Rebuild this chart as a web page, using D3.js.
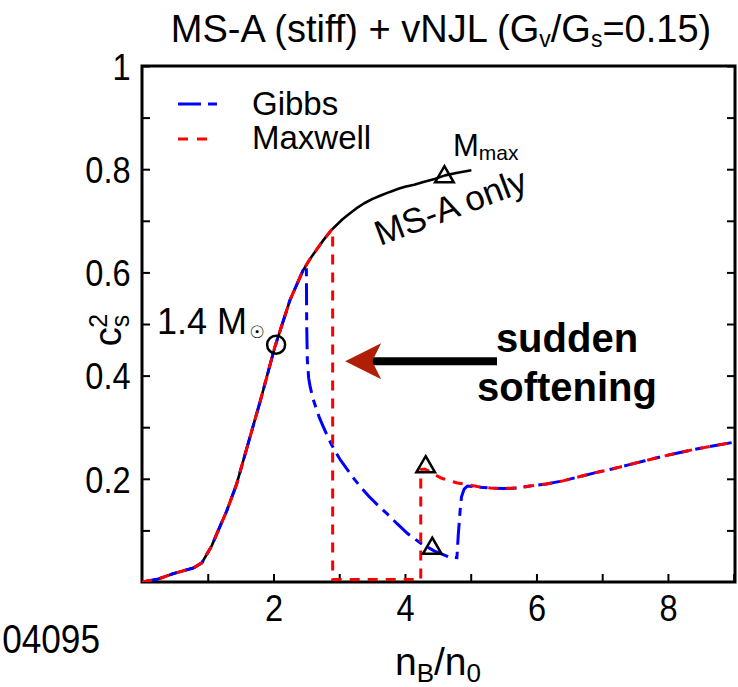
<!DOCTYPE html>
<html><head><meta charset="utf-8">
<script src="https://cdn.jsdelivr.net/npm/d3@7"></script>
<style>
body{margin:0;background:#fff}
text{font-family:"Liberation Sans",Arial,Helvetica,sans-serif;fill:#000}
</style></head>
<body><svg id="chart" width="738" height="687"></svg>
<script>
// ---------- data ----------
const msaN  = [0,0.25,0.47,0.78,0.91,1.06,1.16,1.29,1.44,1.6,1.8,2.02,2.25,2.45,2.55,2.65,2.75,2.88,3.05,3.15,3.26,3.38,3.5,3.63,3.77,3.9,4.0,4.14,4.28,4.45,4.61,4.8,5.01];
const msaCs = [0,0.006,0.016,0.027,0.037,0.07,0.10,0.138,0.19,0.262,0.351,0.455,0.546,0.604,0.625,0.643,0.661,0.682,0.703,0.713,0.724,0.734,0.742,0.749,0.756,0.762,0.766,0.770,0.775,0.781,0.788,0.793,0.798];

const gibbsN  = [0,0.25,0.47,0.78,0.91,1.06,1.16,1.29,1.44,1.6,1.8,2.02,2.25,2.45,2.5,2.505,2.515,2.535,2.56,2.6,2.65,2.7,2.76,2.82,2.88,2.95,3.02,3.1,3.2,3.32,3.45,3.6,3.73,3.88,4.04,4.24,4.45,4.68,4.79,4.81,4.84,4.86,4.9,4.95,5.1,5.3,5.5,5.7,5.9,6.15,6.4,6.65,6.9,7.15,7.4,7.65,7.9,8.15,8.4,8.7,9.05];
const gibbsCs = [0,0.006,0.016,0.027,0.037,0.07,0.10,0.138,0.19,0.262,0.351,0.455,0.546,0.604,0.612,0.50,0.43,0.395,0.377,0.356,0.336,0.318,0.30,0.283,0.267,0.251,0.236,0.222,0.204,0.185,0.166,0.147,0.132,0.113,0.094,0.075,0.060,0.048,0.047,0.09,0.14,0.165,0.18,0.186,0.184,0.182,0.181,0.182,0.186,0.19,0.196,0.204,0.212,0.219,0.227,0.235,0.243,0.25,0.257,0.264,0.272];

const maxwellN  = [0,0.25,0.47,0.78,0.91,1.06,1.16,1.29,1.44,1.6,1.8,2.02,2.25,2.45,2.55,2.65,2.75,2.88,2.9,2.9,3.5,4.24,4.24,4.3,4.38,4.47,4.56,4.68,4.8,4.93,5.1,5.3,5.5,5.7,5.9,6.15,6.4,6.65,6.9,7.15,7.4,7.65,7.9,8.15,8.4,8.7,9.05];
const maxwellCs = [0,0.006,0.016,0.027,0.037,0.07,0.10,0.138,0.19,0.262,0.351,0.455,0.546,0.604,0.625,0.643,0.661,0.682,0.684,0.005,0.005,0.005,0.218,0.219,0.214,0.207,0.201,0.196,0.192,0.189,0.185,0.182,0.181,0.182,0.186,0.19,0.196,0.204,0.212,0.219,0.227,0.235,0.243,0.25,0.257,0.264,0.272];

const circleMark   = {n:2.04, cs:0.460};
const triangleN    = [4.60, 4.315, 4.415];
const triangleCs   = [0.785, 0.223, 0.065];

const xTicks = [1,2,3,4,5,6,7,8,9];
const xTickLabels = [2,4,6,8];
const yTicks = [0.1,0.2,0.3,0.4,0.5,0.6,0.7,0.8,0.9,1.0];
const yTickLabels = [0.2,0.4,0.6,0.8,1.0];

const arrowN  = [5.40, 3.09];   // tail, tip
const arrowCs = [0.428, 0.428];

// ---------- chart ----------
const svg = d3.select("#chart");
const L=142, R=735, T=66, B=582;
const x = d3.scaleLinear().domain([0, 9.02]).range([L, R]);
const y = d3.scaleLinear().domain([0, 1]).range([B, T]);

// title
const title = svg.append("text").attr("x", 441).attr("y", 42).attr("text-anchor","middle").style("font-size","38px");
title.append("tspan").text("MS-A (stiff) + vNJL (G");
title.append("tspan").text("v").style("font-size","23px").attr("dy",5);
title.append("tspan").text("/G").attr("dy",-5);
title.append("tspan").text("s").style("font-size","23px").attr("dy",5);
title.append("tspan").text("=0.15)").attr("dy",-5);

// axes
const fmt = d => d === 1 ? "1" : d3.format(".1f")(d);
const gx = svg.append("g").attr("transform",`translate(0,${B})`)
  .call(d3.axisBottom(x).tickValues(xTicks).tickSize(-8).tickFormat(d => xTickLabels.includes(d) ? d : ""));
gx.select(".domain").remove();
gx.selectAll("line").attr("stroke","#000").attr("stroke-width",2);
gx.selectAll("text").attr("y",39).attr("dy",0).attr("transform","scale(0.88,1)").style("font-size","37px").attr("font-family",null);

const gy = svg.append("g").attr("transform",`translate(${L},0)`)
  .call(d3.axisLeft(y).tickValues(yTicks).tickSize(-8).tickFormat(d => yTickLabels.some(v=>Math.abs(v-d)<1e-9) ? fmt(d) : ""));
gy.select(".domain").remove();
gy.selectAll("line").attr("stroke","#000").attr("stroke-width",2);
gy.selectAll("text").attr("x",-13).attr("dy","0.36em").attr("transform","scale(0.88,1)").style("font-size","37px").attr("font-family",null);

const gr = svg.append("g").attr("transform",`translate(${R},0)`)
  .call(d3.axisRight(y).tickValues(yTicks).tickSize(-8).tickFormat(""));
gr.select(".domain").remove();
gr.selectAll("line").attr("stroke","#000").attr("stroke-width",2);

// frame
svg.append("rect").attr("x",L).attr("y",T).attr("width",R-L).attr("height",B-T)
  .attr("fill","none").attr("stroke","#000").attr("stroke-width",3);

// clip
svg.append("clipPath").attr("id","clip").append("rect").attr("x",L).attr("y",T).attr("width",R-L).attr("height",B-T);
const plot = svg.append("g").attr("clip-path","url(#clip)");

const line = d3.line().x(d=>x(d[0])).y(d=>y(d[1])).curve(d3.curveLinear);
const zip = (a,b) => a.map((v,i)=>[v,b[i]]);

plot.append("path").attr("d", line(zip(msaN,msaCs))).attr("fill","none").attr("stroke","#000").attr("stroke-width",2.6).attr("stroke-linejoin","round");
plot.append("path").attr("d", line(zip(gibbsN,gibbsCs))).attr("fill","none").attr("stroke","#0000ff").attr("stroke-width",3)
  .attr("stroke-dasharray","22,7,8,7");
plot.append("path").attr("d", line(zip(maxwellN,maxwellCs))).attr("fill","none").attr("stroke","#ff0000").attr("stroke-width",3)
  .attr("stroke-dasharray","10,8");

// markers
svg.append("circle").attr("cx",x(circleMark.n)).attr("cy",y(circleMark.cs)).attr("r",9)
  .attr("fill","none").attr("stroke","#000").attr("stroke-width",2.5);
svg.selectAll(".tri").data(zip(triangleN,triangleCs)).join("path").attr("class","tri")
  .attr("transform",d=>`translate(${x(d[0])},${y(d[1])})`)
  .attr("d", d3.symbol(d3.symbolTriangle).size(150)())
  .attr("fill","none").attr("stroke","#000").attr("stroke-width",2.5);

// legend
svg.append("line").attr("x1",178).attr("x2",217).attr("y1",104).attr("y2",104)
  .attr("stroke","#0000ff").attr("stroke-width",3).attr("stroke-dasharray","23,7,9,7");
svg.append("text").attr("x",252).attr("y",115).style("font-size","33px").text("Gibbs");
svg.append("line").attr("x1",178).attr("x2",207).attr("y1",139).attr("y2",139)
  .attr("stroke","#ff0000").attr("stroke-width",3).attr("stroke-dasharray","10,9");
svg.append("text").attr("x",252).attr("y",149).style("font-size","33px").text("Maxwell");

// annotations
svg.append("text").attr("x",157).attr("y",334).style("font-size","36px").text("1.4 M");
svg.append("text").attr("x",257).attr("y",338).attr("text-anchor","middle")
  .style("font-family","DejaVu Sans").style("font-size","17px").text("\u2609");

const mm = svg.append("text").attr("x",453).attr("y",156).style("font-size","31px");
mm.append("tspan").text("M");
mm.append("tspan").text("max").style("font-size","21px").attr("dy",4);

svg.append("text").attr("transform","translate(380,246) rotate(-20.5)").style("font-size","35px").text("MS-A only");

// arrow
svg.append("line").attr("x1",x(arrowN[0])).attr("x2",x(arrowN[1])+27).attr("y1",y(arrowCs[0])).attr("y2",y(arrowCs[1]))
  .attr("stroke","#000").attr("stroke-width",8);
const tx = x(arrowN[1]), ty = y(arrowCs[1]);
svg.append("path").attr("d",`M${tx},${ty} L${tx+36},${ty-18} L${tx+27},${ty} L${tx+36},${ty+18} Z`).attr("fill","#b01e05");

svg.append("text").attr("x",567).attr("y",352).attr("text-anchor","middle").style("font-size","40px").style("font-weight","bold").text("sudden");
svg.append("text").attr("x",567).attr("y",401).attr("text-anchor","middle").style("font-size","40px").style("font-weight","bold").text("softening");

// axis titles
const xl = svg.append("text").attr("x",438).attr("y",675).attr("text-anchor","middle").style("font-size","39px");
xl.append("tspan").text("n");
xl.append("tspan").text("B").style("font-size","26px").attr("dy",7);
xl.append("tspan").text("/n").attr("dy",-7);
xl.append("tspan").text("0").style("font-size","26px").attr("dy",7);

const yl = svg.append("text").attr("transform","translate(121,330) rotate(-90)").attr("text-anchor","middle").style("font-size","38px");
yl.append("tspan").text("c");
yl.append("tspan").text("s").style("font-size","25px").attr("dy",8);
yl.append("tspan").text("2").style("font-size","25px").attr("dx",-13).attr("dy",-22);

svg.append("text").attr("transform","translate(100,653) scale(0.88,1)").attr("text-anchor","end").style("font-size","40px").text("04095");
</script></body></html>
